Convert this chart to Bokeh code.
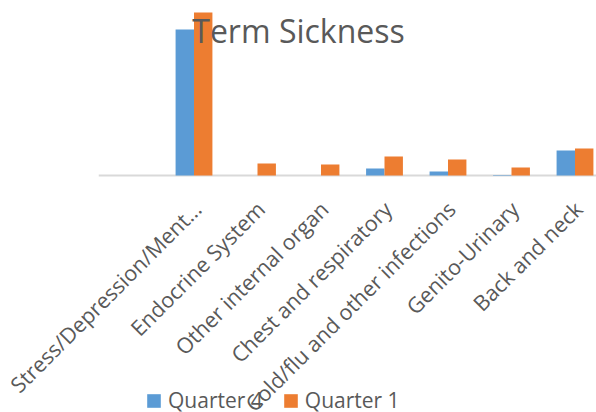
from math import pi
from bokeh.plotting import figure
from bokeh.models import Range1d, Label, Legend, LegendItem, ColumnDataSource
from bokeh.core.properties import value
from bokeh.embed import file_html
from bokeh.resources import INLINE

categories = ["", "Stress/Depression/Ment…", "Endocrine System", "Other internal organ",
              "Chest and respiratory", "Cold/flu and other infections", "Genito-Urinary",
              "Back and neck"]
quarter4 = [0, 146, 0, 0, 7, 4, 0.6, 25]
quarter1 = [0, 163, 12, 11, 19, 16, 8, 27]
series_names = ["Quarter 4", "Quarter 1"]
title_text = "Term Sickness"

BLUE = "#5B9BD5"
ORANGE = "#ED7D31"
GREY_TEXT = "#595959"
FONT = "Open Sans"

idx = list(range(len(categories)))
bw = 0.29
src = ColumnDataSource(dict(
    x4=[i - bw / 2 for i in idx],
    x1=[i + bw / 2 for i in idx],
    q4=quarter4,
    q1=quarter1,
))
lab_src = ColumnDataSource(dict(
    x=[i + 0.05 for i in idx[1:]],
    y=[-29.5] * (len(idx) - 1),
    text=categories[1:],
))

W, H = 596, 412
slot = 63.5          # px per category
x0px = 130           # px position of first category centre
base_px = 175        # px position of the value axis baseline
p = figure(width=W, height=H,
           x_range=Range1d(-x0px / slot, (W - x0px) / slot),
           y_range=Range1d(base_px - H, base_px),
           x_axis_location=None, y_axis_location=None, toolbar_location=None,
           output_backend="svg",
           min_border_left=0, min_border_right=0, min_border_top=0, min_border_bottom=0)
p.outline_line_color = None
p.xgrid.visible = False
p.ygrid.visible = False

# category axis line
p.segment(x0=[idx[0] - 0.5], y0=[0], x1=[idx[-1] + 0.5], y1=[0],
          line_color="#D9D9D9", line_width=2)

r4 = p.vbar(x="x4", top="q4", bottom=0, width=bw, source=src, fill_color=BLUE, line_color=None)
r1 = p.vbar(x="x1", top="q1", bottom=0, width=bw, source=src, fill_color=ORANGE, line_color=None)

title = Label(x=(298 - x0px) / slot, y=145, text=title_text, text_align="center",
              text_baseline="alphabetic", text_font=FONT, text_font_size="32px",
              text_color=GREY_TEXT)
p.add_layout(title)

legend = Legend(items=[LegendItem(label=series_names[0], renderers=[r4]),
                       LegendItem(label=series_names[1], renderers=[r1])],
                orientation="horizontal", location=(145, -2),
                label_text_font=FONT, label_text_font_size="21px", label_text_color=GREY_TEXT,
                glyph_width=17, glyph_height=17, label_standoff=6, spacing=19,
                padding=0, margin=0, border_line_color=None, background_fill_alpha=0)
p.add_layout(legend, "center")

p.text(x="x", y="y", text="text", source=lab_src, angle=pi / 4,
       text_align="right", text_baseline="middle",
       text_font=value(FONT), text_font_size="21.5px", text_color=GREY_TEXT)

open("out.html", "w").write(file_html(p, INLINE))
